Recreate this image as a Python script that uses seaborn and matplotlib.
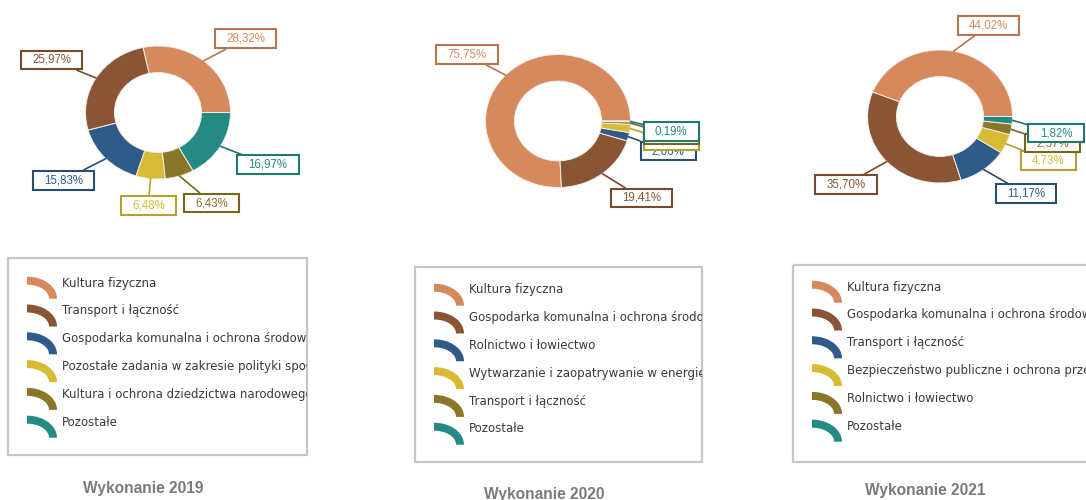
import matplotlib
matplotlib.use("Agg")
import numpy as np
import matplotlib.pyplot as plt
from matplotlib.path import Path
from matplotlib.patches import Polygon, Rectangle
import seaborn as sns

# ---------------------------------------------------------------- data
years = ["2019", "2020", "2021"]

categories_2019 = [
    "Kultura fizyczna",
    "Transport i łączność",
    "Gospodarka komunalna i ochrona środowiska",
    "Pozostałe zadania w zakresie polityki społecznej",
    "Kultura i ochrona dziedzictwa narodowego",
    "Pozostałe",
]
values_2019 = [28.32, 25.97, 15.83, 6.48, 6.43, 16.97]

categories_2020 = [
    "Kultura fizyczna",
    "Gospodarka komunalna i ochrona środowiska",
    "Rolnictwo i łowiectwo",
    "Wytwarzanie i zaopatrywanie w energię elektryczną, gaz i wodę",
    "Transport i łączność",
    "Pozostałe",
]
values_2020 = [75.75, 19.41, 2.06, 1.98, 0.61, 0.19]

categories_2021 = [
    "Kultura fizyczna",
    "Gospodarka komunalna i ochrona środowiska",
    "Transport i łączność",
    "Bezpieczeństwo publiczne i ochrona przeciwpożarowa",
    "Rolnictwo i łowiectwo",
    "Pozostałe",
]
values_2021 = [44.02, 35.70, 11.17, 4.73, 2.57, 1.82]

slice_hex = ["#D5895D", "#8A5535", "#2E5B88", "#D7BB35", "#8A7628", "#268A84"]

# ------------------------------------------------------------- layout
W, H = 1086, 500

# donut centre (px from top-left) and half-width / half-height of the ring
donut_centres = [(158, 112.5), (558, 121), (940, 116.5)]
RX, RY = 72.5, 66.5

# centres of the value boxes, px from top-left
label_centres = [
    [(245.5, 38.8), (51.5, 60.0), (63.3, 180.3), (148.3, 205.5), (211.7, 203.0), (268.0, 164.7)],
    [(466.7, 54.7), (641.7, 198.0), (668.2, 151.0), (671.5, 141.0), (671.5, 135.0), (671.2, 131.7)],
    [(988.5, 25.7), (845.8, 184.5), (1025.8, 193.7), (1048.5, 160.5), (1052.5, 143.0), (1056.0, 133.0)],
]

# legend frames: left, top, width, height (px) and offset of the first row
legend_frames = [(8, 258, 299, 197, 25), (415, 267, 287, 195, 23), (793, 265, 310, 197, 22)]
title_pos = [(143, 488), (544, 494), (925, 491)]

sns.set_theme(style="white")
plt.rcParams["font.family"] = ["Liberation Sans", "DejaVu Sans"]
palette = sns.color_palette(slice_hex)
edge_cols = [tuple(c * 0.86 for c in col) for col in palette]

fig = plt.figure(figsize=(W / 100, H / 100), dpi=100)
fig.patch.set_facecolor("white")


def fx(px):
    return px / W


def fy(py):
    return 1 - py / H


def px_axes(left, top, width, height):
    return fig.add_axes([left / W, 1 - (top + height) / H, width / W, height / H])


def label_box(x0, y0, width, height, mutation_size):
    """Rectangular frame with wider side padding than top/bottom padding."""
    padx = 0.98 * mutation_size
    pady = 0.30 * mutation_size
    xa, ya = x0 - padx, y0 - pady
    xb, yb = x0 + width + padx, y0 + height + pady
    return Path([(xa, ya), (xb, ya), (xb, yb), (xa, yb), (xa, ya)], closed=True)


def fmt(v):
    return f"{v:.2f}".replace(".", ",") + "%"


all_values = [values_2019, values_2020, values_2021]
all_categories = [categories_2019, categories_2020, categories_2021]

for k, (vals, (cx, cy)) in enumerate(zip(all_values, donut_centres)):
    ax = px_axes(cx - RX, cy - RY, 2 * RX, 2 * RY)
    wedges, _ = ax.pie(
        vals,
        colors=palette,
        startangle=0,
        counterclock=True,
        radius=1.0,
        wedgeprops=dict(width=0.4, edgecolor="#F4EEE8", linewidth=0.7),
    )
    ax.set_aspect("auto")
    ax.set_xlim(-1, 1)
    ax.set_ylim(-1, 1)
    ax.axis("off")

    for i, (w, v) in enumerate(zip(wedges, vals)):
        mid = np.deg2rad((w.theta1 + w.theta2) / 2)
        lx, ly = label_centres[k][i]
        ax.annotate(
            fmt(v),
            xy=(np.cos(mid), np.sin(mid)),
            xycoords="data",
            xytext=(fx(lx), fy(ly)),
            textcoords="figure fraction",
            ha="center",
            va="center",
            fontsize=8.3,
            color=palette[i],
            zorder=5 + i,
            annotation_clip=False,
            bbox=dict(boxstyle=label_box, facecolor="white",
                      edgecolor=edge_cols[i], linewidth=1.5),
            arrowprops=dict(arrowstyle="-", color=edge_cols[i], lw=1.2,
                            shrinkA=0, shrinkB=0),
        )

# ------------------------------------------------------------- legends
ICON_W, ICON_H, ICON_T = 30, 22, 8
ROW = 27.8


def arc_icon(x0, top):
    t = np.linspace(0, np.pi / 2, 40)
    cy = top + ICON_H
    outer = np.column_stack([x0 + ICON_W * np.cos(t), cy - ICON_H * np.sin(t)])
    inner = np.column_stack([x0 + (ICON_W - ICON_T) * np.cos(t[::-1]),
                             cy - (ICON_H - ICON_T) * np.sin(t[::-1])])
    return np.vstack([outer, inner])


for k, (left, top, w, h, first) in enumerate(legend_frames):
    lax = px_axes(left, top, w, h)
    lax.set_xlim(0, w)
    lax.set_ylim(h, 0)
    lax.axis("off")
    lax.add_patch(Rectangle((0, 0), w, h, fill=False, edgecolor="#C6C6C6",
                            linewidth=1.6, clip_on=False))
    for i, name in enumerate(all_categories[k]):
        ty = first + i * ROW
        lax.add_patch(Polygon(arc_icon(19, ty - 6.3), closed=True,
                              facecolor=palette[i], edgecolor="none"))
        lax.text(54, ty, name, ha="left", va="center", fontsize=8.5,
                 family=["DejaVu Sans"], color="#3A3A3A", clip_on=True)

    tx, ty = title_pos[k]
    fig.text(fx(tx), fy(ty), f"Wykonanie {years[k]}", ha="center", va="center",
             fontsize=11.2, fontweight="bold", color="#7A7A7A")

fig.savefig("out.png", dpi=100, facecolor="white")
